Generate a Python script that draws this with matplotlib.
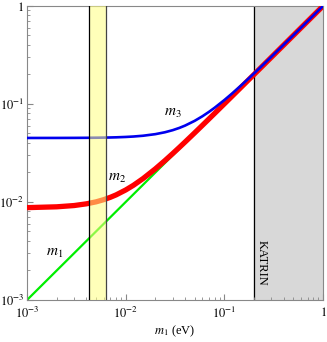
import numpy as np
import matplotlib
matplotlib.use('Agg')
import matplotlib.pyplot as plt

plt.rcParams['font.family'] = ['Liberation Serif', 'DejaVu Serif']
plt.rcParams['mathtext.fontset'] = 'stix'

# values (eV)
m1 = [0.001, 0.002, 0.003, 0.004, 0.005, 0.006, 0.007, 0.008, 0.01, 0.012,
      0.015, 0.02, 0.025, 0.03, 0.035, 0.04, 0.05, 0.06, 0.07, 0.08, 0.1,
      0.12, 0.15, 0.2, 0.25, 0.3, 0.5, 0.7, 1.0]
m2 = [0.00876, 0.00893, 0.0092, 0.00958, 0.01003, 0.01057, 0.01117, 0.01182,
      0.01326, 0.01482, 0.01734, 0.02181, 0.02647, 0.03124, 0.03607, 0.04094,
      0.05075, 0.06063, 0.07054, 0.08047, 0.10038, 0.12032, 0.15025, 0.2002,
      0.25015, 0.3001, 0.5001, 0.7001, 1.0]
m3 = [0.04501, 0.04504, 0.0451, 0.04518, 0.04528, 0.0454, 0.04554, 0.0457,
      0.0461, 0.04657, 0.04743, 0.04924, 0.05148, 0.05408, 0.05701, 0.06021,
      0.06727, 0.075, 0.08322, 0.09179, 0.1097, 0.12816, 0.1566, 0.205,
      0.254, 0.3034, 0.502, 0.7014, 1.001]
band = [0.00425, 0.0063]
katrin = 0.2

xticks = [1e-3, 1e-2, 1e-1, 1]
xlabels = [r'$10^{-3}$', r'$10^{-2}$', r'$10^{-1}$', r'$1$']
ylabels = [r'$10^{-3}$', r'$10^{-2}$', r'$10^{-1}$', r'$1$']

fig = plt.figure(figsize=(3.27, 3.42), dpi=100)
ax = fig.add_axes([0.0826, 0.1228, 0.9052, 0.8597])
ax.set_xscale('log')
ax.set_yscale('log')

ax.axvspan(katrin, 1, color='#d8d8d8', zorder=0)
ax.axvline(katrin, color='black', lw=0.9, zorder=1)

ax.plot(m1, m1, color='#00ee00', lw=1.6, zorder=2)
ax.plot(m1, m2, color='red', lw=3.8, zorder=3, solid_capstyle='butt')
ax.plot(m1, m3, color='#0000ee', lw=1.9, zorder=4)

ax.axvspan(band[0], band[1], color='#ffff80', alpha=0.55, lw=0, zorder=5)
ax.axvline(band[0], color='black', lw=0.9, zorder=6)
ax.axvline(band[1], color='#444444', lw=0.9, zorder=6)

ax.text(0.00192, 0.0030, r'$m_1$', fontsize=11, ha='center', va='center')
ax.text(0.00816, 0.0172, r'$m_2$', fontsize=11, ha='center', va='center')
ax.text(0.0302, 0.081, r'$m_3$', fontsize=11, ha='center', va='center')
ax.text(0.24, 0.0024, 'KATRIN', fontsize=9, rotation=-90, ha='center', va='center')

ax.set_xlim(1e-3, 1)
ax.set_ylim(1e-3, 1)
ax.set_xticks(xticks)
ax.set_xticklabels(xlabels)
ax.set_yticks(xticks)
ax.set_yticklabels(ylabels)
ax.tick_params(which='both', direction='in', color='#888888', labelsize=9, pad=2)
ax.tick_params(axis='x', which='both', pad=4)
ax.tick_params(which='major', length=4.5, width=0.8)
ax.tick_params(which='minor', length=2.5, width=0.6)
for s in ax.spines.values():
    s.set_color('#888888')
    s.set_linewidth(0.8)

ax.set_xlabel(r'$m_1$ (eV)', fontsize=9, labelpad=2)

fig.savefig('out.png', dpi=100)
